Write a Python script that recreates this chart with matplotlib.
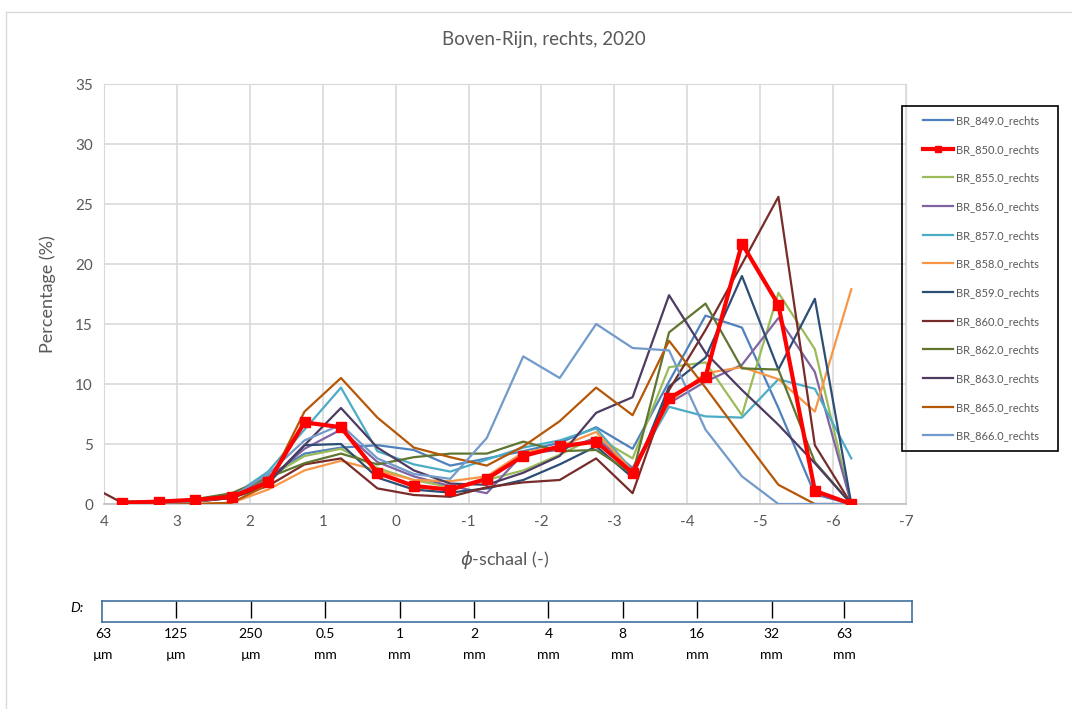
import numpy as np
import matplotlib
matplotlib.use("Agg")
import matplotlib.pyplot as plt
from matplotlib.lines import Line2D
from matplotlib.patches import Rectangle

plt.rcParams['font.family'] = ['Lato', 'DejaVu Sans']

# phi-class midpoints
phi = [3.75, 3.25, 2.75, 2.25, 1.75, 1.25, 0.75, 0.25, -0.25, -0.75, -1.25,
       -1.75, -2.25, -2.75, -3.25, -3.75, -4.25, -4.75, -5.25, -5.75, -6.25]
phi_860 = [4.0] + phi

br_849 = [0.2, 0.2, 0.3, 0.8, 2.3, 4.2, 4.7, 4.9, 4.5, 3.2, 3.8, 4.4, 5.1, 6.4, 4.6, 10.2, 15.7, 14.7, 8.0, 0.8, 0.0]
br_850 = [0.1, 0.2, 0.35, 0.6, 1.8, 6.8, 6.4, 2.6, 1.5, 1.2, 2.1, 4.0, 4.8, 5.2, 2.6, 8.8, 10.6, 21.7, 16.6, 1.1, 0.0]
br_855 = [0.1, 0.2, 0.3, 0.8, 2.2, 4.0, 4.6, 3.0, 2.0, 1.4, 2.0, 2.8, 4.1, 5.6, 3.8, 11.4, 11.8, 7.4, 17.6, 12.9, 0.0]
br_856 = [0.1, 0.2, 0.3, 0.7, 2.0, 4.6, 6.2, 3.5, 2.3, 1.5, 0.9, 4.2, 4.5, 5.5, 3.0, 8.4, 10.2, 11.6, 15.5, 11.0, 0.0]
br_857 = [0.1, 0.1, 0.2, 0.6, 2.7, 6.2, 9.7, 4.4, 3.3, 2.7, 3.7, 4.7, 5.3, 6.3, 2.8, 8.1, 7.3, 7.2, 10.4, 9.6, 3.8]
br_858 = [0.0, 0.0, 0.0, 0.1, 1.2, 2.8, 3.6, 2.8, 2.0, 1.9, 2.3, 4.3, 4.8, 6.0, 2.7, 8.5, 10.9, 11.4, 10.4, 7.7, 17.9]
br_859 = [0.1, 0.1, 0.2, 0.5, 1.7, 4.9, 5.0, 2.2, 1.2, 0.95, 1.3, 2.0, 3.3, 4.8, 2.2, 9.8, 12.2, 19.0, 11.2, 17.1, 0.0]
br_860 = [0.9, 0.1, 0.1, 0.2, 0.5, 1.5, 3.3, 3.8, 1.3, 0.75, 0.6, 1.4, 1.8, 2.0, 3.8, 0.9, 9.5, 14.5, 20.0, 25.6, 4.9, 0.0]
br_862 = [0.2, 0.2, 0.4, 0.9, 2.2, 3.4, 4.2, 3.3, 3.9, 4.2, 4.2, 5.2, 4.4, 4.5, 2.5, 14.3, 16.7, 11.3, 11.2, 3.5, 0.0]
br_863 = [0.1, 0.2, 0.3, 0.7, 1.8, 4.9, 8.0, 4.7, 2.8, 1.7, 1.6, 2.6, 4.0, 7.6, 8.9, 17.4, 12.6, 9.5, 6.6, 3.4, 0.0]
br_865 = [0.0, 0.0, 0.0, 0.1, 1.6, 7.7, 10.5, 7.2, 4.7, 3.9, 3.2, 4.8, 6.9, 9.7, 7.4, 13.6, 9.7, 5.6, 1.6, 0.0, 0.0]
br_866 = [0.1, 0.1, 0.2, 0.6, 2.5, 5.3, 6.6, 3.8, 2.5, 2.1, 5.5, 12.3, 10.5, 15.0, 13.0, 12.8, 6.2, 2.3, 0.0, 0.0, 0.0]

series = [
    ("BR_849.0_rechts", phi, br_849, "#4F81BD"),
    ("BR_850.0_rechts", phi, br_850, "#FF0000"),
    ("BR_855.0_rechts", phi, br_855, "#9BBB59"),
    ("BR_856.0_rechts", phi, br_856, "#8064A2"),
    ("BR_857.0_rechts", phi, br_857, "#4BACC6"),
    ("BR_858.0_rechts", phi, br_858, "#F79646"),
    ("BR_859.0_rechts", phi, br_859, "#2C4D75"),
    ("BR_860.0_rechts", phi_860, br_860, "#772C2A"),
    ("BR_862.0_rechts", phi, br_862, "#5F7530"),
    ("BR_863.0_rechts", phi, br_863, "#4D3B62"),
    ("BR_865.0_rechts", phi, br_865, "#B65708"),
    ("BR_866.0_rechts", phi, br_866, "#729ACA"),
]

# sieve sizes for the D scale and their phi values
d_labels = ["63\nµm", "125\nµm", "250\nµm", "0.5\nmm", "1\nmm", "2\nmm",
            "4\nmm", "8\nmm", "16\nmm", "32\nmm", "63\nmm"]
d_mm = [0.063, 0.125, 0.25, 0.5, 1, 2, 4, 8, 16, 32, 63]

grey = "#595959"
W, H = 1072, 709
fig = plt.figure(figsize=(W / 100, H / 100), dpi=100)
ax = fig.add_axes([104 / W, 1 - 504 / H, 802 / W, 420 / H])

handles = []
for name, xs, ys, col in series:
    if name == "BR_850.0_rechts":
        h, = ax.plot(xs, ys, color=col, lw=3, marker="s", ms=7, zorder=5, label=name)
    else:
        h, = ax.plot(xs, ys, color=col, lw=1.6, zorder=3, label=name)
    handles.append(h)

ax.set_xlim(4, -7)
ax.set_ylim(0, 35)
ax.set_xticks(np.arange(4, -8, -1))
ax.set_xticklabels([str(v) for v in range(4, -8, -1)])
ax.set_yticks(np.arange(0, 36, 5))
ax.grid(True, color="#D9D9D9", lw=1.2)
ax.set_axisbelow(True)
for s in ["left", "top", "right"]:
    ax.spines[s].set_color("#D9D9D9")
ax.spines["bottom"].set_color("#BFBFBF")
ax.spines["bottom"].set_linewidth(1.2)
ax.tick_params(length=0, labelsize=11, labelcolor=grey, pad=8)
ax.set_xlabel(r"$\phi$-schaal (-)", fontsize=13, color=grey, labelpad=14)
ax.set_ylabel("Percentage (%)", fontsize=13, color=grey, labelpad=14)
fig.text(544 / W, 1 - 40 / H, "Boven-Rijn, rechts, 2020", fontsize=13.5,
         color=grey, ha="center", va="center")

# legend with a fixed black box
fig.add_artist(Rectangle((902 / W, 1 - 451 / H), 156 / W, 345 / H,
                         transform=fig.transFigure, fill=False,
                         edgecolor="black", lw=1.2))
leg = fig.legend(handles=handles, loc="upper left",
                 bbox_to_anchor=(923 / W, 1 - 115 / H), borderaxespad=0,
                 fontsize=8, labelspacing=1.59, handlelength=2.7,
                 handletextpad=0.3, borderpad=0, frameon=False, markerscale=0.7)
for t in leg.get_texts():
    t.set_color(grey)

# D scale bar
dax = fig.add_axes([102 / W, 1 - 622 / H, 810 / W, 21 / H])
d_phi = [-np.log2(v) for v in d_mm]
dax.set_xlim(4.0, 4.0 - 810 / 74.4)
dax.set_ylim(0, 1)
dax.vlines(d_phi[1:], 0.2, 1, color="black", lw=1)
dax.set_xticks(d_phi)
dax.set_xticklabels(d_labels, linespacing=1.9)
dax.tick_params(length=0, labelsize=10, pad=4)
dax.set_yticks([])
for s in dax.spines.values():
    s.set_color("#41719C")
    s.set_linewidth(1.2)
fig.text(70 / W, 1 - 608 / H, "D:", style="italic", fontsize=10, va="center")

# chart area border
fig.add_artist(Line2D([6 / W, 6 / W], [0, 1 - 12 / H], color="#D9D9D9", lw=1))
fig.add_artist(Line2D([6 / W, 1], [1 - 12 / H, 1 - 12 / H], color="#D9D9D9", lw=1))

fig.savefig("out.png", dpi=100)
